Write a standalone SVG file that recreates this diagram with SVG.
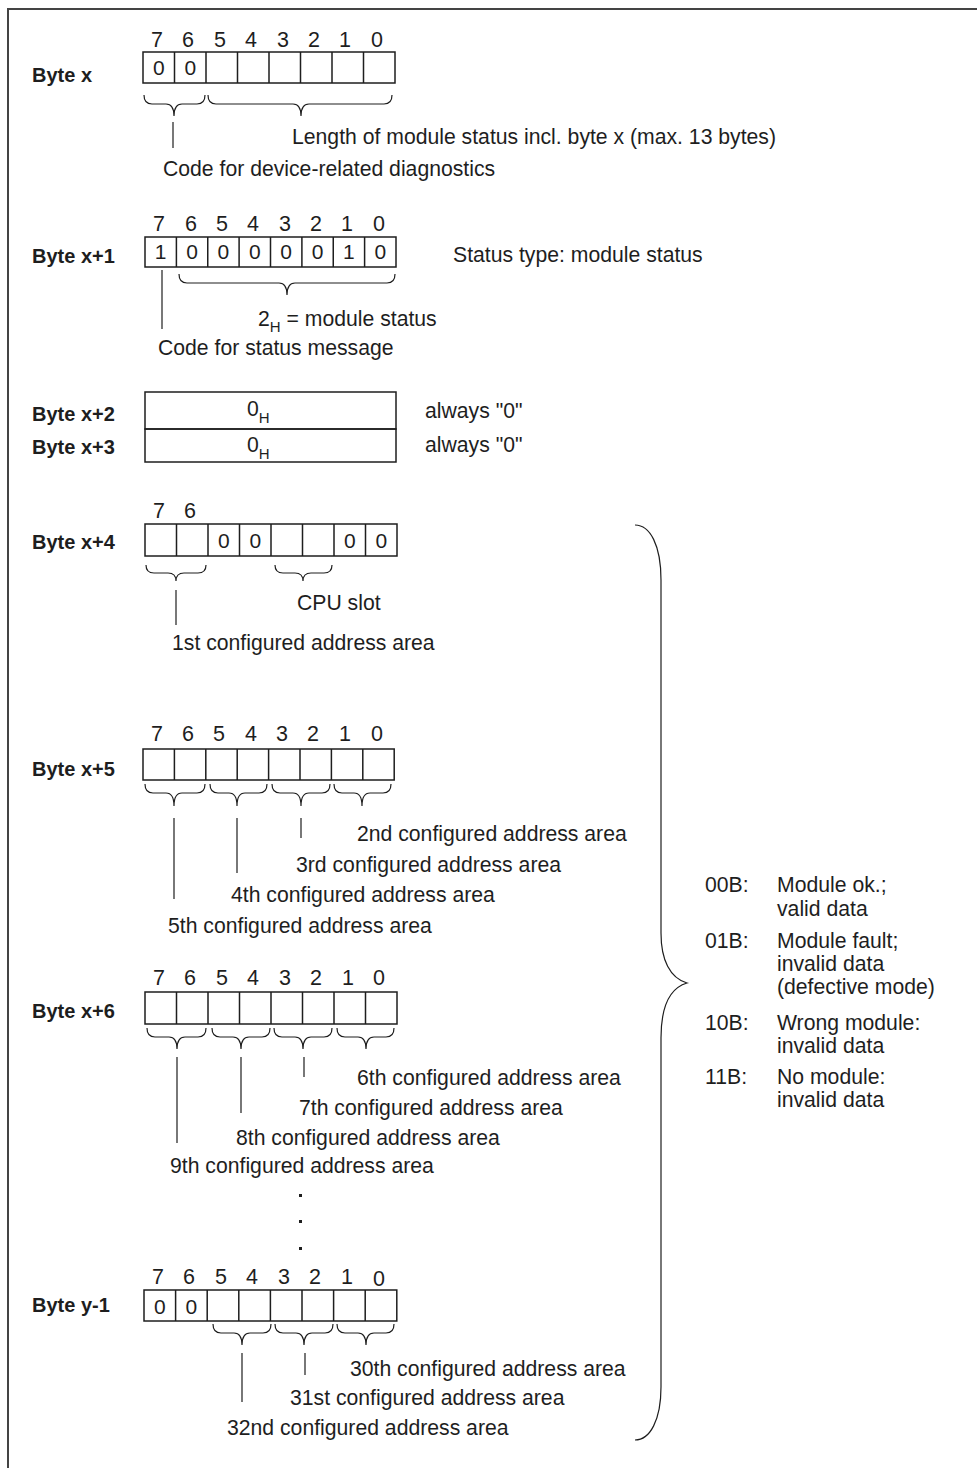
<svg xmlns="http://www.w3.org/2000/svg" width="977" height="1468" viewBox="0 0 977 1468">
<style>
text{font-family:"Liberation Sans",Arial,sans-serif;fill:#1e1e1e}
.t{font-size:21.2px}
.d{font-size:21.5px;text-anchor:middle}
.v{font-size:21px;text-anchor:middle}
.b{font-size:20px;font-weight:bold}
.s{font-size:15px}
.box{fill:none;stroke:#1e1e1e;stroke-width:1.5}
.br{fill:none;stroke:#1e1e1e;stroke-width:1.2}
.ln{fill:none;stroke:#1e1e1e;stroke-width:1.2}
.frame{fill:none;stroke:#444;stroke-width:2}
</style>
<rect width="977" height="1468" fill="#fff"/>
<path class="frame" d="M8,1468 V9 H977"/>

<g id="byte-x">
<text class="b" x="32" y="82">Byte x</text>
<g class="d"><text x="157" y="47">7</text><text x="188" y="47">6</text><text x="220" y="47">5</text><text x="251" y="47">4</text><text x="283" y="47">3</text><text x="314" y="47">2</text><text x="345" y="47">1</text><text x="377" y="47">0</text></g>
<rect class="box" x="143" y="52" width="252" height="31"/>
<path class="box" d="M174.5,52v31M206,52v31M237.5,52v31M269,52v31M300.5,52v31M332,52v31M363.5,52v31"/>
<text class="v" x="158.75" y="75">0</text><text class="v" x="190.25" y="75">0</text>
<text class="t" x="292" y="144">Length of module status incl. byte x (max. 13 bytes)</text>
<text class="t" x="163" y="176">Code for device-related diagnostics</text>
</g>

<g id="byte-x1">
<text class="b" x="32" y="263">Byte x+1</text>
<g class="d"><text x="159" y="231">7</text><text x="191" y="231">6</text><text x="222" y="231">5</text><text x="253" y="231">4</text><text x="285" y="231">3</text><text x="316" y="231">2</text><text x="347" y="231">1</text><text x="379" y="231">0</text></g>
<rect class="box" x="145" y="237" width="251" height="30"/>
<path class="box" d="M176.4,237v30M207.75,237v30M239.1,237v30M270.5,237v30M301.9,237v30M333.25,237v30M364.6,237v30"/>
<g class="v"><text x="160.7" y="259">1</text><text x="192.1" y="259">0</text><text x="223.4" y="259">0</text><text x="254.8" y="259">0</text><text x="286.2" y="259">0</text><text x="317.6" y="259">0</text><text x="348.9" y="259">1</text><text x="380.3" y="259">0</text></g>
<text class="t" x="453" y="262">Status type: module status</text>
<text class="t" x="258" y="326">2<tspan class="s" dy="6">H</tspan><tspan dy="-6"> = module status</tspan></text>
<text class="t" x="158" y="355">Code for status message</text>
</g>

<g id="byte-x2">
<text class="b" x="32" y="421">Byte x+2</text>
<rect class="box" x="145" y="392" width="251" height="37"/>
<text class="t" x="247" y="416">0<tspan class="s" dy="7">H</tspan></text>
<text class="t" x="425" y="418">always "0"</text>
</g>

<g id="byte-x3">
<text class="b" x="32" y="454">Byte x+3</text>
<rect class="box" x="145" y="429" width="251" height="33"/>
<text class="t" x="247" y="452">0<tspan class="s" dy="7">H</tspan></text>
<text class="t" x="425" y="452">always "0"</text>
</g>

<g id="byte-x4">
<text class="b" x="32" y="549">Byte x+4</text>
<g class="d"><text x="159" y="518">7</text><text x="190" y="518">6</text></g>
<rect class="box" x="145" y="524" width="252" height="32"/>
<path class="box" d="M176.5,524v32M208,524v32M239.5,524v32M271,524v32M302.5,524v32M334,524v32M365.5,524v32"/>
<g class="v"><text x="223.75" y="548">0</text><text x="255.25" y="548">0</text><text x="349.75" y="548">0</text><text x="381.25" y="548">0</text></g>
<text class="t" x="297" y="610">CPU slot</text>
<text class="t" x="172" y="650">1st configured address area</text>
</g>

<g id="byte-x5">
<text class="b" x="32" y="776">Byte x+5</text>
<g class="d"><text x="157" y="741">7</text><text x="188" y="741">6</text><text x="219" y="741">5</text><text x="251" y="741">4</text><text x="282" y="741">3</text><text x="313" y="741">2</text><text x="345" y="741">1</text><text x="377" y="741">0</text></g>
<rect class="box" x="143" y="749" width="251.2" height="31"/>
<path class="box" d="M174.4,749v31M205.8,749v31M237.2,749v31M268.6,749v31M300,749v31M331.4,749v31M362.8,749v31"/>
<text class="t" x="357" y="841">2nd configured address area</text>
<text class="t" x="296" y="872">3rd configured address area</text>
<text class="t" x="231" y="902">4th configured address area</text>
<text class="t" x="168" y="933">5th configured address area</text>
</g>

<g id="byte-x6">
<text class="b" x="32" y="1018">Byte x+6</text>
<g class="d"><text x="159" y="985">7</text><text x="190" y="985">6</text><text x="222" y="985">5</text><text x="253" y="985">4</text><text x="285" y="985">3</text><text x="316" y="985">2</text><text x="348" y="985">1</text><text x="379" y="985">0</text></g>
<rect class="box" x="145" y="992" width="252" height="32"/>
<path class="box" d="M176.5,992v32M208,992v32M239.5,992v32M271,992v32M302.5,992v32M334,992v32M365.5,992v32"/>
<text class="t" x="357" y="1085">6th configured address area</text>
<text class="t" x="299" y="1115">7th configured address area</text>
<text class="t" x="236" y="1145">8th configured address area</text>
<text class="t" x="170" y="1173">9th configured address area</text>
</g>

<g id="ellipsis">
<rect x="299" y="1194" width="3" height="3" fill="#1e1e1e"/>
<rect x="299" y="1220" width="3" height="3" fill="#1e1e1e"/>
<rect x="299" y="1247" width="3" height="3" fill="#1e1e1e"/>
</g>

<g id="byte-y1">
<text class="b" x="32" y="1312">Byte y-1</text>
<g class="d"><text x="158" y="1284">7</text><text x="189" y="1284">6</text><text x="221" y="1284">5</text><text x="252" y="1284">4</text><text x="284" y="1284">3</text><text x="315" y="1284">2</text><text x="347" y="1284">1</text><text x="379" y="1286">0</text></g>
<rect class="box" x="144" y="1290" width="252.8" height="31"/>
<path class="box" d="M175.6,1290v31M207.2,1290v31M238.8,1290v31M270.4,1290v31M302,1290v31M333.6,1290v31M365.2,1290v31"/>
<g class="v"><text x="159.8" y="1314">0</text><text x="191.4" y="1314">0</text></g>
<text class="t" x="350" y="1376">30th configured address area</text>
<text class="t" x="290" y="1405">31st configured address area</text>
<text class="t" x="227" y="1435">32nd configured address area</text>
</g>

<g id="legend">
<text class="t" x="705" y="892">00B:</text><text class="t" x="777" y="892">Module ok.;</text>
<text class="t" x="777" y="916">valid data</text>
<text class="t" x="705" y="948">01B:</text><text class="t" x="777" y="948">Module fault;</text>
<text class="t" x="777" y="971">invalid data</text>
<text class="t" x="777" y="994">(defective mode)</text>
<text class="t" x="705" y="1030">10B:</text><text class="t" x="777" y="1030">Wrong module:</text>
<text class="t" x="777" y="1053">invalid data</text>
<text class="t" x="705" y="1084">11B:</text><text class="t" x="777" y="1084">No module:</text>
<text class="t" x="777" y="1107">invalid data</text>
</g>

<g id="connectors">
<path class="br" d="M144,95 Q144,104 152,104 H166 Q174,104 174,116 Q174,104 182,104 H197 Q205,104 205,95"/>
<path class="br" d="M208,95 Q208,104 216,104 H293 Q301,104 301,116 Q301,104 309,104 H384 Q392,104 392,95"/>
<path class="ln" d="M173,122V148"/>
<path class="br" d="M179,274 Q179,283 187,283 H279 Q287,283 287,295 Q287,283 295,283 H387 Q395,283 395,274"/>
<path class="ln" d="M162,270V329"/>
<path class="br" d="M146,565 Q146,573 154,573 H168 Q176,573 176,581 Q176,573 184,573 H198 Q206,573 206,565"/>
<path class="br" d="M275,565 Q275,573 283,573 H295 Q303,573 303,581 Q303,573 311,573 H324 Q332,573 332,565"/>
<path class="ln" d="M176,590V625"/>
<path class="br" d="M145,784 Q145,793 153,793 H166 Q174,793 174,806 Q174,793 182,793 H197 Q205,793 205,784"/>
<path class="br" d="M210,784 Q210,793 218,793 H229 Q237,793 237,806 Q237,793 245,793 H259 Q267,793 267,784"/>
<path class="br" d="M272,784 Q272,793 280,793 H293 Q301,793 301,806 Q301,793 309,793 H322 Q330,793 330,784"/>
<path class="br" d="M334,784 Q334,793 342,793 H354 Q362,793 362,806 Q362,793 370,793 H383 Q391,793 391,784"/>
<path class="ln" d="M174,818V899M237,818V873M301,818V838"/>
<path class="br" d="M147,1028 Q147,1037 155,1037 H169 Q177,1037 177,1049 Q177,1037 185,1037 H198 Q206,1037 206,1028"/>
<path class="br" d="M212,1028 Q212,1037 220,1037 H233 Q241,1037 241,1049 Q241,1037 249,1037 H262 Q270,1037 270,1028"/>
<path class="br" d="M274,1028 Q274,1037 282,1037 H295 Q303,1037 303,1049 Q303,1037 311,1037 H324 Q332,1037 332,1028"/>
<path class="br" d="M337,1028 Q337,1037 345,1037 H358 Q366,1037 366,1049 Q366,1037 374,1037 H386 Q394,1037 394,1028"/>
<path class="ln" d="M177,1057V1143M241,1057V1113M304,1057V1077"/>
<path class="br" d="M213,1324 Q213,1333 221,1333 H234 Q242,1333 242,1345 Q242,1333 250,1333 H263 Q271,1333 271,1324"/>
<path class="br" d="M275,1324 Q275,1333 283,1333 H296 Q304,1333 304,1345 Q304,1333 312,1333 H325 Q333,1333 333,1324"/>
<path class="br" d="M337,1324 Q337,1333 345,1333 H358 Q366,1333 366,1345 Q366,1333 374,1333 H386 Q394,1333 394,1324"/>
<path class="ln" d="M242,1353V1402M305,1353V1375"/>
<path class="br" d="M635,525 C650,525 661,545 661,580 L661,933 C661,960 670,978 687,983 C670,988 661,1005 661,1038 L661,1387 C661,1420 650,1440 635,1440"/>
</g>
</svg>
